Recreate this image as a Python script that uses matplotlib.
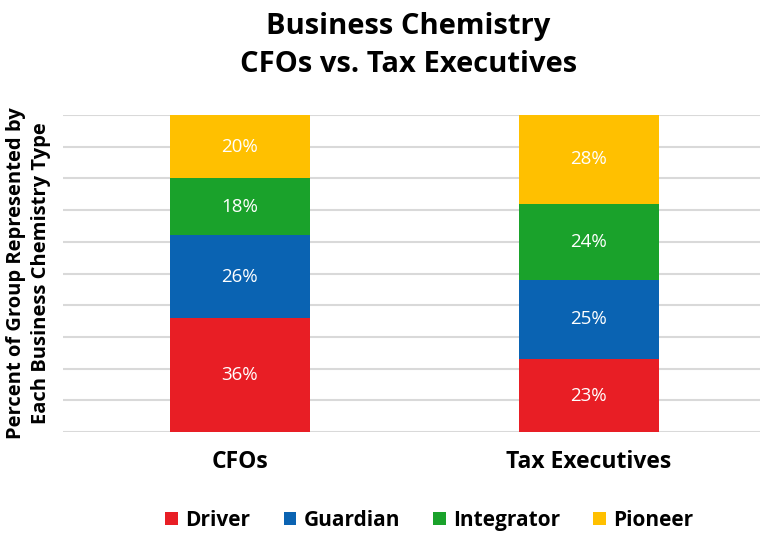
import numpy
from matplotlib import pyplot

pyplot.rcParams['font.family'] = ['Open Sans', 'DejaVu Sans']

# Percent of group per Business Chemistry type
groups = ["CFOs", "Tax Executives"]
types = ["Driver", "Guardian", "Integrator", "Pioneer"]
driver = [36, 23]
guardian = [26, 25]
integrator = [18, 24]
pioneer = [20, 28]

COLORS = ["#E81E25", "#0A63B2", "#1AA22B", "#FFC000"]

fig = pyplot.figure(figsize=(7.6, 5.35), dpi=100)
ax = fig.add_axes([0.083, 0.1925, 0.917, 0.5925])

x = numpy.arange(len(groups))
bottom = numpy.zeros(len(groups))
for name, vals, color in zip(types, [driver, guardian, integrator, pioneer], COLORS):
    vals = numpy.asarray(vals, dtype=float)
    bars = ax.bar(x, vals, width=0.4, bottom=bottom, color=color, label=name, zorder=3)
    for rect, v in zip(bars, vals):
        ax.text(rect.get_x() + rect.get_width() / 2, rect.get_y() + v / 2, f"{v:.0f}%",
                ha="center", va="center", color="white", fontsize=13.5, zorder=4)
    bottom += vals

ax.set_xlim(-0.506, 1.49)
ax.set_ylim(0, 100)
ax.set_yticks(numpy.arange(0, 101, 10))
ax.set_yticklabels([])
ax.yaxis.grid(True, color="#d9d9d9", linewidth=1.5, zorder=0)
ax.tick_params(length=0)
ax.set_xticks(x)
ax.set_xticklabels(groups, fontsize=16.5, fontweight="bold")
ax.tick_params(axis="x", pad=13)
for s in ax.spines.values():
    s.set_visible(False)

ax.set_ylabel("Percent of Group Represented by\nEach Business Chemistry Type",
              fontsize=14.5, fontweight="bold", labelpad=5, linespacing=1.35)

fig.text(0.537, 0.978, "Business Chemistry\nCFOs vs. Tax Executives",
         ha="center", va="top", fontsize=21, fontweight="bold", linespacing=1.4)

fig.legend(loc="center", bbox_to_anchor=(0.565, 0.028), ncol=4, frameon=False,
           handlelength=0.6, handleheight=0.6, handletextpad=0.35, columnspacing=1.6,
           prop={"size": 15, "weight": "bold"})

fig.savefig("out.png", dpi=100)
